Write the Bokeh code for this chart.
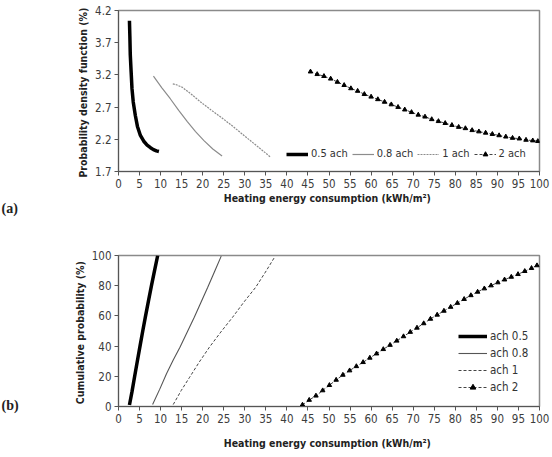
from bokeh.plotting import figure
from bokeh.models import (Range1d, FixedTicker, PrintfTickFormatter, Legend,
                          LegendItem, Label)
from bokeh.layouts import column, row
from bokeh.embed import file_html
from bokeh.resources import INLINE

FONT = "'DejaVu Sans Condensed', 'Liberation Sans Narrow', 'Liberation Sans', sans-serif"

# ---- (a) probability density function ----
pdf_x_05 = [2.6, 2.7, 2.8, 3.0, 3.2, 3.5, 4.0, 4.5, 5.2, 6.0, 6.8, 7.6, 8.3, 9.0, 9.6]
pdf_y_05 = [4.04, 3.80, 3.51, 3.25, 2.99, 2.78, 2.57, 2.40, 2.26, 2.17, 2.11, 2.07, 2.04, 2.02, 2.01]

pdf_x_08 = [8.3, 10.3, 12.3, 14.3, 16.3, 18.3, 20.3, 22.4, 24.6]
pdf_y_08 = [3.18, 3.00, 2.83, 2.65, 2.48, 2.32, 2.18, 2.05, 1.94]

pdf_x_1 = [12.9, 13.6, 15.1, 17.3, 19.5, 21.9, 24.2, 27.0, 29.8, 33.0, 36.0]
pdf_y_1 = [3.06, 3.05, 3.01, 2.90, 2.78, 2.66, 2.55, 2.41, 2.26, 2.09, 1.93]

pdf_x_2 = [45.6, 47.2, 48.8, 50.4, 52.0, 53.6, 55.2, 56.8, 58.4, 60.0, 61.6, 63.2,
           64.8, 66.4, 68.0, 69.6, 71.2, 72.8, 74.4, 76.0, 77.6, 79.2, 80.8, 82.4,
           84.0, 85.6, 87.2, 88.8, 90.4, 92.0, 93.6, 95.2, 96.8, 98.4, 99.6]
pdf_y_2 = [3.25, 3.21, 3.18, 3.14, 3.09, 3.04, 2.99, 2.95, 2.90, 2.86, 2.82, 2.78,
           2.74, 2.70, 2.66, 2.62, 2.58, 2.55, 2.51, 2.48, 2.45, 2.42, 2.39, 2.37,
           2.34, 2.32, 2.30, 2.28, 2.26, 2.24, 2.22, 2.21, 2.19, 2.18, 2.17]

pdf_labels = ["0.5 ach", "0.8 ach", "1 ach", "2 ach"]
pdf_yticks = [1.7, 2.2, 2.7, 3.2, 3.7, 4.2]

# ---- (b) cumulative probability ----
cdf_x_05 = [2.6, 3.22, 3.84, 4.47, 5.11, 5.76, 6.43, 7.12, 7.83, 8.56, 9.31]
cdf_y_05 = [1.0, 10.0, 20.0, 30.0, 40.0, 50.0, 60.0, 70.0, 80.0, 90.0, 100.0]

cdf_x_08 = [8.1, 9.8, 11.4, 13.0, 14.6, 16.3, 18.0, 19.6, 21.2, 22.8, 24.4]
cdf_y_08 = [1.3, 11.5, 21.7, 30.8, 39.3, 49.2, 59.1, 69.1, 79.0, 89.3, 99.6]

cdf_x_1 = [13.0, 14.9, 16.9, 19.2, 21.6, 24.3, 27.1, 29.8, 32.6, 34.9, 37.1]
cdf_y_1 = [1.3, 10.6, 19.4, 29.5, 39.3, 49.3, 59.1, 69.2, 79.0, 89.0, 99.0]

cdf_x_2 = [43.7, 45.3, 46.9, 48.5, 50.1, 51.7, 53.3, 54.9, 56.5, 58.1, 59.7, 61.3,
           62.9, 64.5, 66.1, 67.7, 69.3, 70.9, 72.5, 74.1, 75.7, 77.3, 78.9, 80.5,
           82.1, 83.7, 85.3, 86.9, 88.5, 90.1, 91.7, 93.3, 94.9, 96.5, 98.1, 99.4]
cdf_y_2 = [1.1, 4.3, 7.1, 10.6, 14.1, 17.6, 20.9, 23.8, 26.6, 29.3, 32.2, 35.0,
           37.9, 40.7, 43.5, 46.4, 49.3, 52.1, 55.0, 58.0, 60.7, 63.3, 65.9, 68.5,
           71.1, 73.6, 75.9, 78.1, 80.1, 82.1, 84.0, 85.8, 87.6, 89.6, 91.6, 93.4]

cdf_labels = ["ach 0.5", "ach 0.8", "ach 1", "ach 2"]
cdf_yticks = [0, 20, 40, 60, 80, 100]

panel_tags = ["(a)", "(b)"]

x_ticks = list(range(0, 101, 5))
x_title = "Heating energy consumption  (kWh/m\u00b2)"

TAG_W = 22


def style_axes(p, y_title, y_fmt):
    p.xaxis.ticker = FixedTicker(ticks=x_ticks)
    for ax in (p.xaxis[0], p.yaxis[0]):
        ax.major_label_text_font = FONT
        ax.major_label_text_font_size = "11.5px"
        ax.major_label_text_color = "#3c3c3c"
        ax.axis_label_text_font = FONT
        ax.axis_label_text_font_size = "10.5px"
        ax.axis_label_text_font_style = "bold"
        ax.axis_label_text_color = "#222222"
        ax.axis_line_color = "#555555"
        ax.major_tick_line_color = "#555555"
        ax.major_tick_in = 0
        ax.major_tick_out = 4
        ax.minor_tick_line_color = None
        ax.major_label_standoff = 3
        ax.axis_label_standoff = 3
    p.xaxis.axis_label = x_title
    p.yaxis.axis_label = y_title
    p.yaxis.formatter = PrintfTickFormatter(format=y_fmt)
    p.xgrid.grid_line_color = None
    p.ygrid.grid_line_color = None
    p.outline_line_color = "#8a8a8a"
    p.outline_line_width = 1.5


# ---- narrow strip on the left carrying the panel tags ----
tags = figure(width=TAG_W, height=457, output_backend="svg", toolbar_location=None,
              x_range=Range1d(0, TAG_W), y_range=Range1d(457, 0),
              x_axis_type=None, y_axis_type=None, min_border=0,
              outline_line_color=None, background_fill_color="white",
              border_fill_color="white")
tags.xgrid.grid_line_color = None
tags.ygrid.grid_line_color = None
for txt, ypos in zip(panel_tags, [208, 405]):
    tags.add_layout(Label(x=1, y=ypos, text=txt,
                          text_font="'Liberation Serif', serif",
                          text_font_style="bold", text_font_size="14px",
                          text_baseline="middle", text_color="#222222"))

# ---- top figure ----
top = figure(width=552 - TAG_W, height=228, output_backend="svg", toolbar_location=None,
             x_range=Range1d(0, 100), y_range=Range1d(1.7, 4.2),
             min_border_left=118 - TAG_W, min_border_right=13, min_border_top=10,
             min_border_bottom=57, background_fill_color="white",
             border_fill_color="white")
style_axes(top, "Probability density function  (%)", "%.1f")
top.yaxis.ticker = FixedTicker(ticks=pdf_yticks)
top.xaxis.axis_label_standoff = 1

t1 = top.line(pdf_x_05, pdf_y_05, line_color="black", line_width=3.5)
t2 = top.line(pdf_x_08, pdf_y_08, line_color="#8c8c8c", line_width=1.2)
t3 = top.line(pdf_x_1, pdf_y_1, line_color="#8c8c8c", line_width=1.2, line_dash="2 1")
t4l = top.line(pdf_x_2, pdf_y_2, line_color="#444444", line_width=1, line_dash="3 2")
t4m = top.scatter(pdf_x_2, pdf_y_2, marker="triangle", size=4.5,
                  fill_color="black", line_color="black")

leg_top = Legend(items=[LegendItem(label=pdf_labels[0], renderers=[t1]),
                        LegendItem(label=pdf_labels[1], renderers=[t2]),
                        LegendItem(label=pdf_labels[2], renderers=[t3]),
                        LegendItem(label=pdf_labels[3], renderers=[t4l, t4m])],
                 orientation="horizontal", location=(168, 11),
                 glyph_width=22, glyph_height=12, label_height=12,
                 label_standoff=3, spacing=4, padding=0, margin=0,
                 label_text_font=FONT, label_text_font_size="11px",
                 label_text_color="#333333",
                 border_line_color=None, background_fill_alpha=0)
top.add_layout(leg_top)

# ---- bottom figure ----
bot = figure(width=552 - TAG_W, height=229, output_backend="svg", toolbar_location=None,
             x_range=Range1d(0, 100), y_range=Range1d(0, 100),
             min_border_left=118 - TAG_W, min_border_right=9, min_border_top=27,
             min_border_bottom=51, background_fill_color="white",
             border_fill_color="white")
style_axes(bot, "Cumulative  probability (%)", "%d")
bot.yaxis.ticker = FixedTicker(ticks=cdf_yticks)
bot.xaxis.axis_label_standoff = 11

b1 = bot.line(cdf_x_05, cdf_y_05, line_color="black", line_width=3.5)
b2 = bot.line(cdf_x_08, cdf_y_08, line_color="#555555", line_width=1.1)
b3 = bot.line(cdf_x_1, cdf_y_1, line_color="#444444", line_width=1, line_dash="3 2")
b4l = bot.line(cdf_x_2, cdf_y_2, line_color="#444444", line_width=1, line_dash="3 2")
b4m = bot.scatter(cdf_x_2, cdf_y_2, marker="triangle", size=4.5,
                  fill_color="black", line_color="black")

leg_bot = Legend(items=[LegendItem(label=cdf_labels[0], renderers=[b1]),
                        LegendItem(label=cdf_labels[1], renderers=[b2]),
                        LegendItem(label=cdf_labels[2], renderers=[b3]),
                        LegendItem(label=cdf_labels[3], renderers=[b4l, b4m])],
                 orientation="vertical", location=(340, 12),
                 glyph_width=29, glyph_height=14, label_height=14,
                 label_standoff=3, spacing=3, padding=0, margin=0,
                 label_text_font=FONT, label_text_font_size="11.5px",
                 label_text_color="#333333",
                 border_line_color=None, background_fill_alpha=0)
bot.add_layout(leg_bot)

layout = row(tags, column(top, bot, spacing=0), spacing=0)
open("out.html", "w").write(file_html(layout, INLINE))
